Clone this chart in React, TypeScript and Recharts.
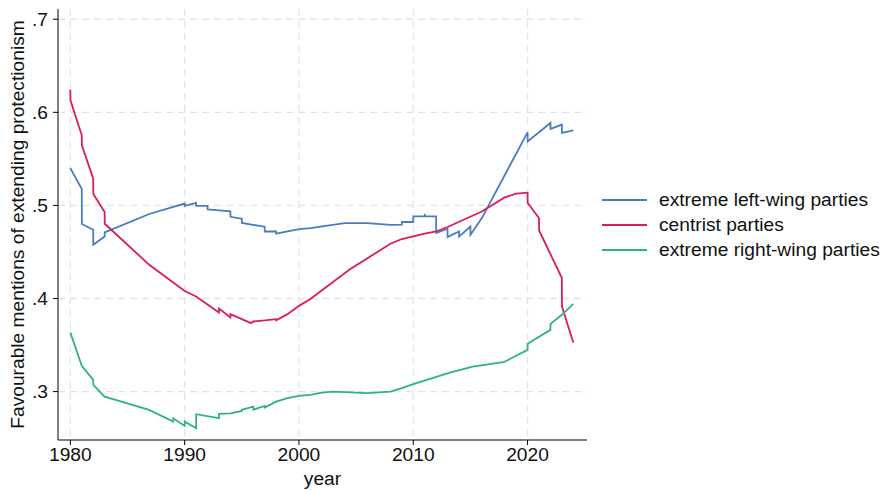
import { LineChart, Line, XAxis, YAxis, CartesianGrid, Label } from 'recharts';

// Smoothed share of favourable protectionism mentions, by party family.
// Repeated years (x.01) mark the jumps where a new election enters the window.
const leftYears = [1980, 1981, 1981.01, 1982, 1982.01, 1983, 1983.01, 1986.9, 1990, 1990.01, 1991, 1991.01, 1992, 1992.01, 1994, 1994.01, 1995, 1995.01, 1997, 1997.01, 1998, 1998.01, 2000, 2001, 2004, 2006, 2008, 2009, 2009.01, 2010, 2010.01, 2011, 2011.01, 2011.02, 2012, 2012.01, 2013, 2013.01, 2014, 2014.01, 2015, 2015.01, 2016, 2020, 2020.01, 2022, 2022.01, 2023, 2023.01, 2024];
const leftShare = [0.540, 0.5176, 0.480, 0.4739, 0.4577, 0.4667, 0.471, 0.4908, 0.502, 0.4996, 0.5026, 0.4996, 0.4996, 0.4958, 0.4936, 0.4878, 0.4857, 0.4811, 0.4771, 0.472, 0.472, 0.4696, 0.4746, 0.4757, 0.481, 0.481, 0.479, 0.4793, 0.4822, 0.4822, 0.4882, 0.4882, 0.491, 0.4882, 0.4882, 0.4703, 0.475, 0.466, 0.472, 0.4665, 0.4774, 0.4685, 0.4864, 0.5785, 0.5688, 0.5886, 0.5822, 0.5868, 0.5778, 0.5806];

const centreYears = [1980, 1980.01, 1981, 1981.01, 1982, 1982.01, 1983, 1983.01, 1986.9, 1990, 1991, 1993, 1993.01, 1994, 1994.01, 1995.8, 1996, 1997, 1998, 1998.01, 1999, 2000, 2001, 2004.4, 2008, 2009, 2010, 2011, 2012, 2013, 2016, 2018, 2019, 2020, 2020.01, 2021, 2021.01, 2023, 2023.01, 2024];
const centreShare = [0.6244, 0.6129, 0.5753, 0.5645, 0.5287, 0.5123, 0.4929, 0.4803, 0.4362, 0.408, 0.4022, 0.385, 0.3892, 0.3796, 0.3832, 0.3735, 0.3753, 0.3764, 0.3778, 0.3765, 0.3832, 0.3921, 0.3994, 0.4309, 0.4588, 0.4639, 0.4667, 0.4696, 0.472, 0.4768, 0.4935, 0.5086, 0.5126, 0.5137, 0.5026, 0.4865, 0.4731, 0.422, 0.3914, 0.3527];

const rightYears = [1980, 1981, 1982, 1982.01, 1983, 1986.9, 1989, 1989.01, 1990, 1990.01, 1991, 1991.01, 1993, 1993.01, 1994, 1995, 1995.01, 1996, 1996.01, 1997, 1997.01, 1998, 1999, 2000, 2001, 2002, 2003, 2006, 2008, 2009, 2010, 2013.2, 2015.2, 2017.9, 2019, 2020, 2020.01, 2022, 2022.01, 2023, 2024];
const rightShare = [0.3634, 0.3276, 0.3126, 0.3072, 0.2946, 0.2803, 0.2677, 0.2713, 0.2631, 0.2677, 0.2606, 0.2757, 0.2714, 0.276, 0.2767, 0.2792, 0.2806, 0.2839, 0.2806, 0.2846, 0.2828, 0.2892, 0.2929, 0.2954, 0.2965, 0.299, 0.300, 0.2983, 0.300, 0.3037, 0.308, 0.3204, 0.3269, 0.3316, 0.3385, 0.3448, 0.3513, 0.3663, 0.3728, 0.3825, 0.3943];

const yearTicks = [1980, 1990, 2000, 2010, 2020];
const shareTicks = [0.3, 0.4, 0.5, 0.6, 0.7];

const FONT = '"Liberation Sans", Arial, sans-serif';
const FS = 19.2;

const toPoints = (xs: number[], ys: number[]) => xs.map((year, i) => ({ year, share: ys[i] }));

const series = [
  { name: 'extreme left-wing parties', color: '#4a7cc1', data: toPoints(leftYears, leftShare) },
  { name: 'centrist parties', color: '#db1d5a', data: toPoints(centreYears, centreShare) },
  { name: 'extreme right-wing parties', color: '#2eb47c', data: toPoints(rightYears, rightShare) },
];

const fmtShare = (v: number) => v.toFixed(1).replace(/^0/, '');

// legend sits outside the svg so it does not eat into the plot height
const LegendBox = () => (
  <div style={{ position: 'absolute', left: 602, top: 187, fontFamily: FONT, fontSize: FS, color: '#111', lineHeight: '25px' }}>
    {series.map((s) => (
      <div key={s.name} style={{ display: 'flex', alignItems: 'center', height: 25, whiteSpace: 'nowrap' }}>
        <span style={{ display: 'inline-block', width: 45, height: 2, background: s.color, marginRight: 12 }} />
        <span>{s.name}</span>
      </div>
    ))}
  </div>
);

export default function App() {
  return (
    <div style={{ position: 'absolute', left: 0, top: 0, width: 883, height: 490, background: '#fff' }}>
      <LineChart width={883} height={490} margin={{ top: 9, right: 296, bottom: 0, left: 0 }}>
        <CartesianGrid stroke="#e4e4e4" strokeDasharray="7 5" strokeWidth={1.3} syncWithTicks />
        <XAxis
          dataKey="year"
          type="number"
          domain={[1978.92, 2025.2]}
          ticks={yearTicks}
          allowDuplicatedCategory={false}
          height={50}
          stroke="#000"
          tickSize={5}
          tickMargin={2}
          tick={{ fill: '#111', fontSize: FS, fontFamily: FONT }}
        >
          <Label
            content={({ viewBox }: any) => (
              <text x={viewBox.x + viewBox.width / 2} y={viewBox.y + 45} textAnchor="middle" fontSize={FS} fontFamily={FONT} fill="#111">
                year
              </text>
            )}
          />
        </XAxis>
        <YAxis
          type="number"
          domain={[0.248, 0.711]}
          ticks={shareTicks}
          tickFormatter={fmtShare}
          width={58}
          stroke="#000"
          tickSize={5}
          tickMargin={5}
          tick={{ fill: '#111', fontSize: FS, fontFamily: FONT }}
        >
          <Label
            content={({ viewBox }: any) => {
              const cx = 17;
              const cy = viewBox.y + viewBox.height / 2;
              return (
                <text x={cx} y={cy} transform={`rotate(-90 ${cx} ${cy})`} textAnchor="middle" dominantBaseline="central" fontSize={FS} fontFamily={FONT} fill="#111">
                  Favourable mentions of extending protectionism
                </text>
              );
            }}
          />
        </YAxis>
        {series.map((s) => (
          <Line
            key={s.name}
            name={s.name}
            data={s.data}
            dataKey="share"
            type="linear"
            stroke={s.color}
            strokeWidth={1.8}
            dot={false}
            activeDot={false}
            isAnimationActive={false}
          />
        ))}
      </LineChart>
      <LegendBox />
    </div>
  );
}
